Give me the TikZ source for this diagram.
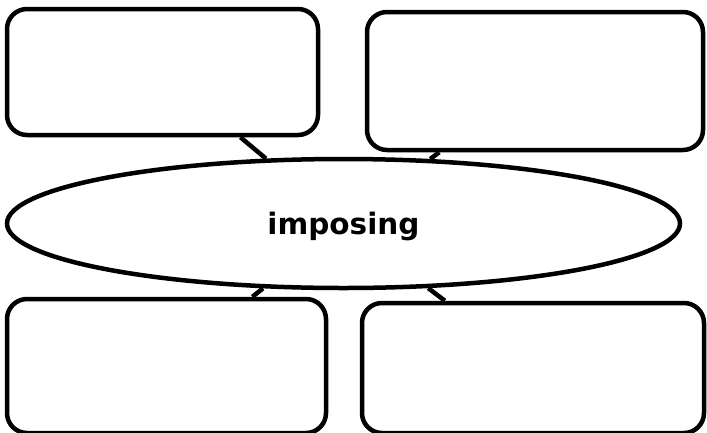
\documentclass[tikz,border=0pt]{standalone}
\usepackage{fontspec}
\setmainfont{DejaVu Sans}
\usetikzlibrary{shapes.geometric}
\tikzset{
  box/.style={draw=black, line width=4.5pt, rounded corners=20pt, fill=white, inner sep=0pt},
  oval/.style={ellipse, draw=black, line width=4.5pt, fill=white, inner sep=0pt, text height=26pt, text depth=4pt, font=\fontsize{29.5}{34}\selectfont\bfseries},
  link/.style={draw=black, line width=4.5pt}
}
\begin{document}
\begin{tikzpicture}[x=1pt,y=1pt]
\useasboundingbox (0,0) rectangle (707,-432);
\node[box, minimum width=311pt, minimum height=126pt] (tl) at (162.5,-72) {};
\node[box, minimum width=336pt, minimum height=138pt] (tr) at (535,-81) {};
\node[box, minimum width=319pt, minimum height=134pt] (bl) at (166.5,-366) {};
\node[box, minimum width=342pt, minimum height=130pt] (br) at (533,-368) {};
\node[oval, minimum width=673pt, minimum height=129pt] (c) at (343.5,-223.5) {imposing};
\draw[link] (tl) -- (c);
\draw[link] (tr) -- (c);
\draw[link] (bl) -- (c);
\draw[link] (br) -- (c);
\end{tikzpicture}
\end{document}
